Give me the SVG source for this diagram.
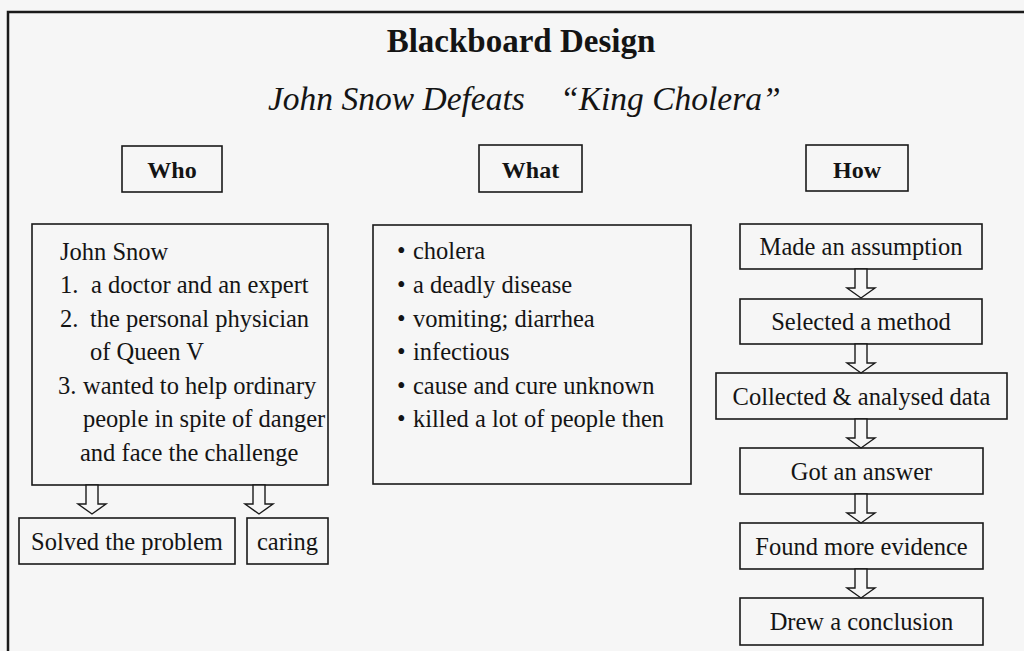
<svg xmlns="http://www.w3.org/2000/svg" xmlns:xlink="http://www.w3.org/1999/xlink" width="1024" height="651" viewBox="0 0 1024 651">
  <style>
    .box { fill: none; stroke: #1a1a1a; stroke-width: 1.6; }
    .arrow { fill: #f6f6f6; stroke: #1a1a1a; stroke-width: 1.4; stroke-linejoin: miter; }
    text { font-family: "Liberation Serif", "Times New Roman", serif; fill: #141414; }
    .title { font-size: 33px; font-weight: bold; }
    .sub { font-size: 33.5px; font-style: italic; }
    .head { font-size: 24px; font-weight: bold; text-anchor: middle; }
    .body { font-size: 24.5px; }
    .ctr { font-size: 24.5px; text-anchor: middle; }
  </style>
  <defs>
    <path id="blockArrow" d="M-6,0 V19 H-14 L0,29 L14,19 H6 V0 Z"/>
  </defs>

  <rect x="0" y="0" width="1024" height="651" fill="#f6f6f6"/>
  <path d="M8,651 V12 H1024" fill="none" stroke="#1a1a1a" stroke-width="2.5"/>

  <g id="title">
    <text class="title" x="521" y="52" text-anchor="middle">Blackboard Design</text>
    <text class="sub" x="268" y="110">John Snow Defeats</text>
    <text class="sub" x="560" y="110">“King Cholera”</text>
  </g>

  <g id="who-label">
    <rect class="box" x="122" y="146" width="100" height="46"/>
    <text class="head" x="172" y="178">Who</text>
  </g>
  <g id="what-label">
    <rect class="box" x="479" y="145" width="103" height="47"/>
    <text class="head" x="530.5" y="178">What</text>
  </g>
  <g id="how-label">
    <rect class="box" x="806" y="145" width="102" height="46"/>
    <text class="head" x="857" y="178">How</text>
  </g>

  <g id="who-content">
    <rect class="box" x="32" y="224" width="296" height="261"/>
    <text class="body" x="60" y="260">John Snow</text>
    <text class="body" y="293"><tspan x="60">1.</tspan><tspan x="91">a doctor and an expert</tspan></text>
    <text class="body" y="327"><tspan x="60">2.</tspan><tspan x="90">the personal physician</tspan></text>
    <text class="body" x="90" y="360">of Queen V</text>
    <text class="body" y="394"><tspan x="58">3.</tspan><tspan x="83">wanted to help ordinary</tspan></text>
    <text class="body" x="83" y="427">people in spite of danger</text>
    <text class="body" x="80" y="461">and face the challenge</text>
  </g>

  <g id="what-content">
    <rect class="box" x="373" y="225" width="318" height="259"/>
    <text class="body" y="259"><tspan x="397">•</tspan><tspan x="413">cholera</tspan></text>
    <text class="body" y="293"><tspan x="397">•</tspan><tspan x="413">a deadly disease</tspan></text>
    <text class="body" y="327"><tspan x="397">•</tspan><tspan x="413">vomiting; diarrhea</tspan></text>
    <text class="body" y="360"><tspan x="397">•</tspan><tspan x="413">infectious</tspan></text>
    <text class="body" y="394"><tspan x="397">•</tspan><tspan x="413">cause and cure unknown</tspan></text>
    <text class="body" y="427"><tspan x="397">•</tspan><tspan x="413">killed a lot of people then</tspan></text>
  </g>

  <g id="solved">
    <rect class="box" x="19" y="518" width="216" height="46"/>
    <text class="ctr" x="127" y="550">Solved the problem</text>
  </g>
  <g id="caring">
    <rect class="box" x="247" y="518" width="81" height="46"/>
    <text class="ctr" x="287.5" y="550">caring</text>
  </g>

  <g id="made">
    <rect class="box" x="740" y="224" width="242" height="45"/>
    <text class="ctr" x="861" y="255">Made an assumption</text>
  </g>
  <g id="selected">
    <rect class="box" x="740" y="299" width="242" height="45"/>
    <text class="ctr" x="861" y="330">Selected a method</text>
  </g>
  <g id="collected">
    <rect class="box" x="716" y="373" width="291" height="46"/>
    <text class="ctr" x="861.5" y="405">Collected &amp; analysed data</text>
  </g>
  <g id="got">
    <rect class="box" x="740" y="448" width="243" height="46"/>
    <text class="ctr" x="861.5" y="480">Got an answer</text>
  </g>
  <g id="found">
    <rect class="box" x="740" y="523" width="243" height="46"/>
    <text class="ctr" x="861.5" y="555">Found more evidence</text>
  </g>
  <g id="drew">
    <rect class="box" x="740" y="598" width="243" height="47"/>
    <text class="ctr" x="861.5" y="630">Drew a conclusion</text>
  </g>

  <g id="connectors">
    <use xlink:href="#blockArrow" href="#blockArrow" class="arrow" x="92" y="485"/>
    <use xlink:href="#blockArrow" href="#blockArrow" class="arrow" x="259" y="485"/>
    <use xlink:href="#blockArrow" href="#blockArrow" class="arrow" x="861" y="269"/>
    <use xlink:href="#blockArrow" href="#blockArrow" class="arrow" x="861" y="344"/>
    <use xlink:href="#blockArrow" href="#blockArrow" class="arrow" x="861" y="419"/>
    <use xlink:href="#blockArrow" href="#blockArrow" class="arrow" x="861" y="494"/>
    <use xlink:href="#blockArrow" href="#blockArrow" class="arrow" x="861" y="569"/>
  </g>
</svg>
